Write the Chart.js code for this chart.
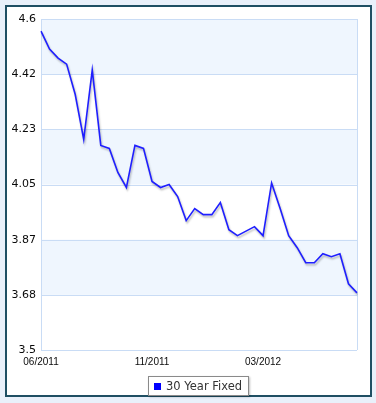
<!DOCTYPE html>
<html>
<head>
<meta charset="utf-8">
<script src="https://cdn.jsdelivr.net/npm/chart.js@4/dist/chart.umd.min.js"></script>
<style>
  html, body { margin: 0; padding: 0; }
  body { width: 376px; height: 403px; background: #e9f0fa; position: relative; overflow: hidden; }
  #panel { position: absolute; left: 5px; top: 5px; width: 363px; height: 388px; border: 2px solid #1f4f63; background: #fff; }
  #wrap { position: absolute; left: 0; top: 0; width: 376px; height: 403px; }
  #legend { position: absolute; left: 148px; top: 376px; width: 99px; height: 18px; border: 1px solid #8a8a8a;
            background: #fff; box-shadow: 1px 1px 2px rgba(0,0,0,0.25); font: 11.5px "DejaVu Sans", Verdana, sans-serif;
            color: #333; line-height: 18px; white-space: nowrap; }
  #legend span.sw { display: inline-block; width: 7px; height: 7px; margin: 0 5px 0 5px; }
</style>
</head>
<body>
<div id="panel"></div>
<div id="wrap"><canvas id="myChart" width="376" height="403"></canvas></div>
<div id="legend"></div>
<script>
const seriesName = '30 Year Fixed';
const rates = [
  4.56, 4.50, 4.47, 4.45, 4.35, 4.20, 4.43, 4.18, 4.17, 4.09,
  4.04, 4.18, 4.17, 4.06, 4.04, 4.05, 4.01, 3.93, 3.97, 3.95,
  3.95, 3.99, 3.90, 3.88, 3.895, 3.91, 3.88, 4.055, 3.97, 3.88,
  3.84, 3.79, 3.79, 3.82, 3.81, 3.82, 3.72, 3.69
];
const xTickLabels = ['06/2011', '11/2011', '03/2012'];
const xTickEvery = 13;
const yMin = 3.5;
const yMax = 4.6;
const ySteps = 6;

const labels = rates.map((_, i) => (i % xTickEvery === 0 ? (xTickLabels[i / xTickEvery] || '') : ''));

// alternating bands, grid lines and plot frame, plus a soft shadow under the line
const bandsPlugin = {
  id: 'bands',
  beforeDatasetsDraw(chart) {
    const { ctx, chartArea: a, scales: { y } } = chart;
    ctx.save();
    const ticks = y.ticks;
    for (let i = 0; i < ticks.length - 1; i++) {
      const fromTop = ticks.length - 2 - i;
      if (fromTop % 2 === 0) {
        const y1 = y.getPixelForValue(ticks[i + 1].value);
        const y2 = y.getPixelForValue(ticks[i].value);
        ctx.fillStyle = '#eff6fe';
        ctx.fillRect(a.left, y1, a.right - a.left, y2 - y1);
      }
    }
    ctx.strokeStyle = '#c9dcf5';
    ctx.lineWidth = 1;
    ctx.beginPath();
    ticks.forEach(t => {
      const py = Math.round(y.getPixelForValue(t.value)) + 0.5;
      ctx.moveTo(a.left, py);
      ctx.lineTo(a.right, py);
    });
    ctx.moveTo(Math.round(a.left) + 0.5, a.top);
    ctx.lineTo(Math.round(a.left) + 0.5, a.bottom);
    ctx.moveTo(Math.round(a.right) + 0.5, a.top);
    ctx.lineTo(Math.round(a.right) + 0.5, a.bottom);
    ctx.stroke();
    ctx.restore();
  },
  beforeDatasetDraw(chart) {
    const ctx = chart.ctx;
    ctx.save();
    ctx.shadowColor = 'rgba(0,0,0,0.28)';
    ctx.shadowOffsetX = 1;
    ctx.shadowOffsetY = 2;
    ctx.shadowBlur = 2;
  },
  afterDatasetDraw(chart) {
    chart.ctx.restore();
  }
};

const ctx = document.getElementById('myChart');

const data = {
  labels: labels,
  datasets: [
    {
      label: seriesName,
      data: rates,
      borderColor: '#1f1fff',
      backgroundColor: '#0000ff',
      borderWidth: 1.6,
      pointRadius: 0,
      tension: 0,
      fill: false
    }
  ]
};

const config = {
  type: 'line',
  data: data,
  options: {
    responsive: false,
    animation: false,
    layout: { padding: { left: 0, top: 19, right: 19, bottom: 0 } },
    plugins: {
      legend: { display: false },
      tooltip: { enabled: false }
    },
    scales: {
      x: {
        offset: false,
        grid: { display: false, drawTicks: false },
        border: { display: false },
        afterFit: (scale) => { scale.height = 53; },
        ticks: {
          autoSkip: false,
          maxRotation: 0,
          padding: 6,
          color: '#0a0a0a',
          font: { family: 'Liberation Sans, Arial, sans-serif', size: 10 }
        }
      },
      y: {
        min: yMin,
        max: yMax,
        grid: { display: false, drawTicks: false },
        border: { display: false },
        afterFit: (scale) => { scale.width = 41; },
        afterBuildTicks: (scale) => {
          const ticks = [];
          for (let i = 0; i <= ySteps; i++) ticks.push({ value: yMin + i * (yMax - yMin) / ySteps });
          scale.ticks = ticks;
        },
        ticks: {
          padding: 5,
          color: '#0a0a0a',
          font: { family: 'DejaVu Sans, Verdana, sans-serif', size: 11 },
          callback: (v) => String(parseFloat(Number(v).toFixed(2)))
        }
      }
    }
  },
  plugins: [bandsPlugin]
};

const myChart = new Chart(ctx, config);

const legend = document.getElementById('legend');
myChart.data.datasets.forEach(ds => {
  const sw = document.createElement('span');
  sw.className = 'sw';
  sw.style.background = ds.backgroundColor;
  legend.appendChild(sw);
  legend.appendChild(document.createTextNode(ds.label));
});
</script>
</body>
</html>
